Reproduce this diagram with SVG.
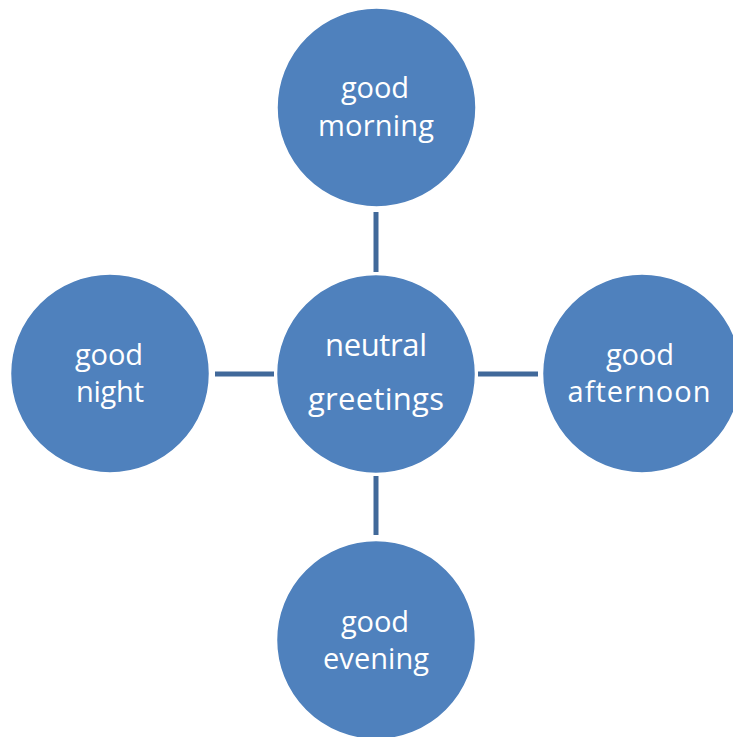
<svg xmlns="http://www.w3.org/2000/svg" width="733" height="737" viewBox="0 0 733 737">
<style>
.n{fill:#4F81BD;stroke:#ffffff;stroke-width:1.5}
.t{fill:#ffffff;font-family:"Open Sans","Liberation Sans",sans-serif;font-size:29px;text-anchor:middle}
.c{font-size:31px}
.e{stroke:#41699A;stroke-width:5;fill:none}
</style>
<rect width="733" height="737" fill="#ffffff"/>
<g id="connectors">
<line class="e" x1="376" y1="212" x2="376" y2="272"/>
<line class="e" x1="215" y1="374" x2="274" y2="374"/>
<line class="e" x1="478" y1="374" x2="538" y2="374"/>
<line class="e" x1="376" y1="476" x2="376" y2="535"/>
</g>
<g id="center">
<circle class="n" cx="376" cy="374" r="99.5"/>
<text class="t c" x="376" y="356" textLength="102">neutral</text>
<text class="t c" x="376" y="410" textLength="136">greetings</text>
</g>
<g id="morning">
<circle class="n" cx="376.5" cy="107.5" r="99.5"/>
<text class="t" x="375" y="98" textLength="68">good</text>
<text class="t" x="376" y="136" textLength="116">morning</text>
</g>
<g id="night">
<circle class="n" cx="110" cy="373.5" r="99.5"/>
<text class="t" x="109" y="365" textLength="68">good</text>
<text class="t" x="110" y="402" textLength="68">night</text>
</g>
<g id="afternoon">
<circle class="n" cx="642" cy="373.5" r="99.5"/>
<text class="t" x="640" y="365" textLength="68">good</text>
<text class="t" x="639" y="402" textLength="143">afternoon</text>
</g>
<g id="evening">
<circle class="n" cx="376" cy="640" r="99.5"/>
<text class="t" x="375" y="632" textLength="68">good</text>
<text class="t" x="376" y="669" textLength="106">evening</text>
</g>
</svg>
